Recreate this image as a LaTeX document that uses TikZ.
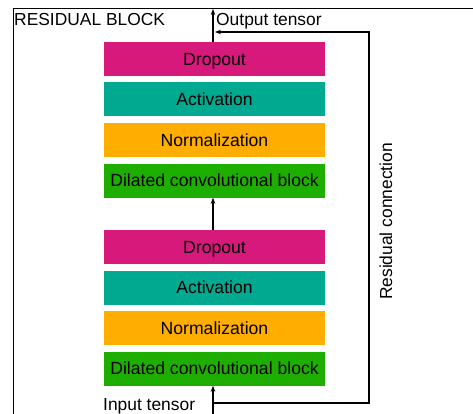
\documentclass[tikz,border=0pt]{standalone}
\usepackage{fontspec}
\setmainfont{Liberation Sans}
\usetikzlibrary{arrows.meta}
\definecolor{cdrop}{HTML}{D6197A}
\definecolor{cact}{HTML}{00A98F}
\definecolor{cnorm}{HTML}{FFAE00}
\definecolor{cconv}{HTML}{1DAE00}
\begin{document}
\begin{tikzpicture}[x=1pt,y=-1pt,
  blk/.style={minimum width=221pt,minimum height=34pt,inner sep=0pt,font=\fontsize{17.6}{20}\selectfont,text=black,text height=12.6pt,text depth=0pt},
  lbl/.style={inner sep=0pt,font=\fontsize{17.4}{20}\selectfont},
  conn/.style={line width=1.1pt,-{Stealth[length=6pt,width=4.5pt]}},
  plain/.style={line width=1.1pt}]
\useasboundingbox (0,0) rectangle (473,414);
% frame
\draw[line width=1pt] (13,414) -- (13,9) -- (473,9);
\node[lbl,anchor=base west] (title) at (14,26) {RESIDUAL BLOCK};
% upper group
\node[blk,fill=cdrop] (d2) at (214.5,59) {Dropout};
\node[blk,fill=cact] (a2) at (214.5,99.5) {Activation};
\node[blk,fill=cnorm] (n2) at (214.5,140) {Normalization};
\node[blk,fill=cconv] (c2) at (214.5,180.5) {Dilated convolutional block};
% lower group
\node[blk,fill=cdrop] (d1) at (214.5,247) {Dropout};
\node[blk,fill=cact] (a1) at (214.5,287.5) {Activation};
\node[blk,fill=cnorm] (n1) at (214.5,328) {Normalization};
\node[blk,fill=cconv] (c1) at (214.5,368.5) {Dilated convolutional block};
% texts
\node[lbl,anchor=base west] (out) at (216,26) {Output tensor};
\node[lbl,anchor=base west] (in) at (103,410) {Input tensor};
\node[lbl,rotate=90,anchor=base] (res) at (392,221.5) {Residual connection};
% coordinates
\coordinate (inb) at (213,414);
\coordinate (outt) at (213,9);
\coordinate (r0) at (213,403);
\coordinate (r1) at (369,403);
\coordinate (r2) at (369,32);
\coordinate (r3) at (215,32);
% connectors
\draw[conn] (inb) -- (inb |- c1.south);
\draw[conn] (d1.north -| inb) -- (c2.south -| inb);
\draw[conn] (d2.north -| inb) -- (outt);
\draw[conn] (r0) -- (r1) -- (r2) -- (r3);
\end{tikzpicture}
\end{document}
